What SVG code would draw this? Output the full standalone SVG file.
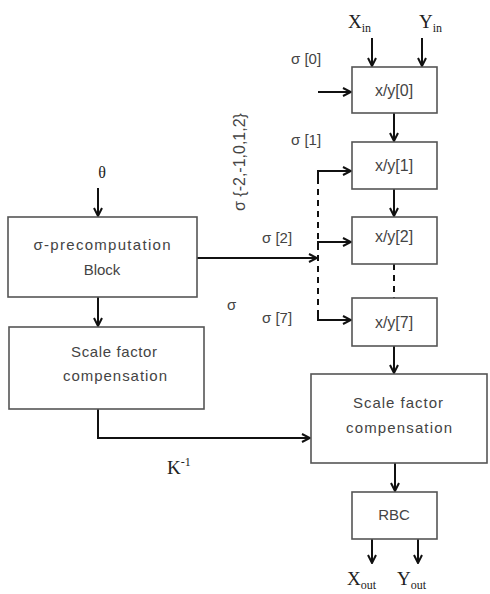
<svg xmlns="http://www.w3.org/2000/svg" width="490" height="594" viewBox="0 0 490 594">
<defs>
<marker id="arr" viewBox="0 0 10 10" refX="9" refY="5" markerWidth="10" markerHeight="10" markerUnits="userSpaceOnUse" orient="auto">
<path d="M1,1 L9,5 L1,9" fill="none" stroke="#111" stroke-width="2"/>
</marker>
<style>
.box{fill:#fff;stroke:#555;stroke-width:1.6}
.t{font-family:"Liberation Sans",Arial,sans-serif;font-size:15px;fill:#444;text-anchor:middle}
.xy{font-size:16px}
.lb{font-family:"Liberation Sans",Arial,sans-serif;font-size:15px;fill:#444}
.sf{font-family:"Liberation Serif","Times New Roman",serif;font-size:19px;fill:#222}
.sub{font-size:12px}
.ln{fill:none;stroke:#111;stroke-width:2}
.ar{marker-end:url(#arr)}
.ds{stroke-dasharray:6,5}
</style>
</defs>
<rect width="490" height="594" fill="#fff"/>
<g id="connectors">
<path class="ln ar" d="M372,38 V66"/>
<path class="ln ar" d="M422,38 V66"/>
<path class="ln ar" d="M318,92 H351"/>
<path class="ln ar" d="M394,113 V141"/>
<path class="ln ar" d="M394,189 V216"/>
<path class="ln ds" d="M394,264 V298"/>
<path class="ln ar" d="M394,346 V373"/>
<path class="ln ar" d="M395,463 V491"/>
<path class="ln ar" d="M372,539 V563"/>
<path class="ln ar" d="M418,539 V563"/>
<path class="ln ar" d="M98,188 V216"/>
<path class="ln ar" d="M98,297 V326"/>
<path class="ln ar" d="M98,409 V438 H310"/>
<path class="ln ar" d="M197,258 H317"/>
<path class="ln ds" d="M318,178 V314"/>
<path class="ln ar" d="M318,178 V171 H351"/>
<path class="ln ar" d="M318,248 V242 H351"/>
<path class="ln ar" d="M318,313 V320 H351"/>
</g>
<g id="xy0"><rect class="box" x="352" y="67" width="85" height="46"/><text class="t xy" x="394" y="96">x/y[0]</text></g>
<g id="xy1"><rect class="box" x="352" y="142" width="85" height="47"/><text class="t xy" x="394" y="171">x/y[1]</text></g>
<g id="xy2"><rect class="box" x="352" y="217" width="85" height="47"/><text class="t xy" x="394" y="242">x/y[2]</text></g>
<g id="xy7"><rect class="box" x="352" y="298" width="85" height="48"/><text class="t xy" x="394" y="328">x/y[7]</text></g>
<g id="precomp"><rect class="box" x="8" y="217" width="189" height="80"/><text class="t" x="102" y="250" textLength="137" lengthAdjust="spacing">σ-precomputation</text><text class="t" x="102" y="275">Block</text></g>
<g id="scaleL"><rect class="box" x="9" y="327" width="195" height="82"/><text class="t" x="114" y="357" textLength="86" lengthAdjust="spacing">Scale factor</text><text class="t" x="115" y="381" textLength="104" lengthAdjust="spacing">compensation</text></g>
<g id="scaleR"><rect class="box" x="311" y="374" width="176" height="89"/><text class="t" x="398" y="408" textLength="90" lengthAdjust="spacing">Scale factor</text><text class="t" x="399" y="433" textLength="106" lengthAdjust="spacing">compensation</text></g>
<g id="rbc"><rect class="box" x="352" y="492" width="85" height="47"/><text class="t" x="394" y="520">RBC</text></g>
<g id="labels">
<text class="sf" x="348" y="28">X<tspan class="sub" dy="4">in</tspan></text>
<text class="sf" x="419" y="28">Y<tspan class="sub" dy="4">in</tspan></text>
<text class="lb" x="291" y="64">σ [0]</text>
<text class="lb" x="291" y="145">σ [1]</text>
<text class="lb" x="262" y="243">σ [2]</text>
<text class="lb" x="262" y="323">σ [7]</text>
<text class="lb" x="227" y="310">σ</text>
<text class="lb" transform="translate(245,211) rotate(-90)" style="font-size:16px">σ {-2,-1,0,1,2}</text>
<text class="sf" x="102" y="178" text-anchor="middle" style="font-size:16px">θ</text>
<text class="sf" x="167" y="474">K<tspan class="sub" dy="-8">-1</tspan></text>
<text class="sf" x="347" y="585">X<tspan class="sub" dy="4">out</tspan></text>
<text class="sf" x="397" y="585">Y<tspan class="sub" dy="4">out</tspan></text>
</g>
</svg>
